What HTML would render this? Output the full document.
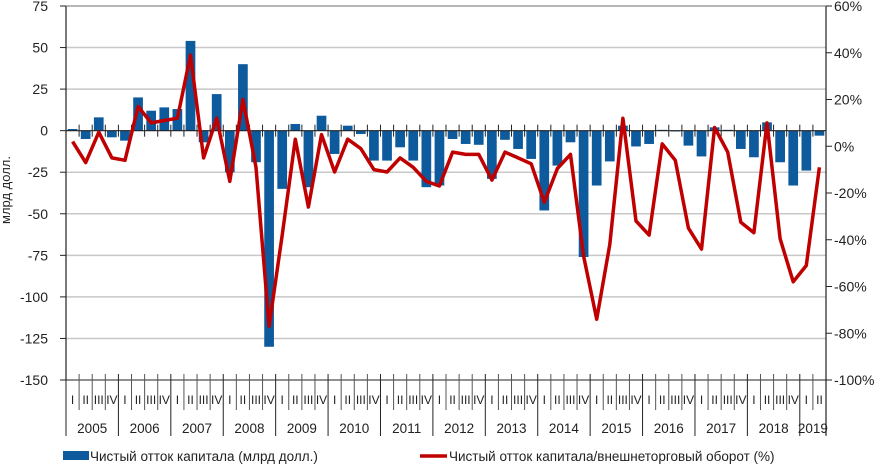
<!DOCTYPE html>
<html><head><meta charset="utf-8"><style>
html,body{margin:0;padding:0;background:#fff;}
svg{display:block;font-family:"Liberation Sans","DejaVu Sans",sans-serif;}
</style></head><body>
<svg id="chart" width="888" height="465" xmlns="http://www.w3.org/2000/svg">
<g id="grid"></g>
<g id="bars"></g>
<g id="axes"></g>
<g id="line"></g>
<g id="labels"></g>
<text x="10" y="190" font-size="13" fill="#222" text-anchor="middle" transform="rotate(-90 10 190)">млрд долл.</text>
<g>
<rect x="63" y="451" width="26" height="9" fill="#0d5a9c"/>
<text x="90" y="461" font-size="13.5" fill="#222">Чистый  отток капитала  (млрд долл.)</text>
<line x1="420" y1="456" x2="447" y2="456" stroke="#c00000" stroke-width="3.5"/>
<text x="449" y="461" font-size="13.5" fill="#222">Чистый  отток капитала/внешнеторговый  оборот (%)</text>
</g>
</svg>
<script>
const years = ["2005","2006","2007","2008","2009","2010","2011","2012","2013","2014","2015","2016","2017","2018","2019"];
const quarterLabels = ["I","II","III","IV"];
const outflow = [1,-5,8,-4, -6,20,12,14, 13,54,-7,22, -25,40,-19,-130, -35,4,-34,9, -14,3,-2,-18, -18,-10,-18,-34, -33,-5,-8,-8.5, -29,-5.5,-11,-17, -48,-21,-7,-76, -33,-18.5,3,-9.5, -8,0.5,-0.5,-9, -15.5,2,0.5,-11, -16,5,-19,-33, -24,-3];
const ratio = [2,-7,6,-5, -6,17,10,11, 12,39,-5,12, -15,20,-9,-77, -38,3,-26,5, -11,3,-1,-10, -11,-5,-9,-15, -17,-2.5,-3.5,-3.5, -14.5,-2.5,-5,-7.5, -24,-9.5,-3.5,-47, -74,-42,12,-32, -38,1,-6,-35, -44,8,-2.5,-32.5, -37,10,-39.5,-58, -51,-9];
const leftTicks = [75,50,25,0,-25,-50,-75,-100,-125,-150];
const rightTicks = [60,40,20,0,-20,-40,-60,-80,-100];

const NS="http://www.w3.org/2000/svg";
const X0=66, X1=826, TOP=6, BOT=380;
const nQ=outflow.length, qw=(X1-X0)/nQ;
const yL=v=>TOP+(75-v)/225*(BOT-TOP);
const yR=v=>TOP+(60-v)/160*(BOT-TOP);
const xQ=i=>X0+qw*(i+0.5);
function mk(parent,tag,attrs){const e=document.createElementNS(NS,tag);for(const k in attrs)e.setAttribute(k,attrs[k]);document.getElementById(parent).appendChild(e);return e;}

leftTicks.forEach(t=>{
  if(t!==-150&&t!==0){const g=mk('grid','line',{x1:X0,x2:X1,y1:yL(t),y2:yL(t),stroke:'#c8c8c8','stroke-width':1.5});
  
  }
  const tx=mk('labels','text',{x:48,y:yL(t)+5,'font-size':14,fill:'#222','text-anchor':'end'});
  tx.textContent=t;
  
  
});
rightTicks.forEach(t=>{
  mk('axes','line',{x1:X1,x2:X1+6,y1:yR(t),y2:yR(t),stroke:'#222'});
  const tx=mk('labels','text',{x:834,y:yR(t)+5,'font-size':14,fill:'#222'});
  tx.textContent=t+'%';
  
  
});

outflow.forEach((v,i)=>{
  const y0=yL(0),y=yL(v);
  const r=mk('bars','rect',{x:xQ(i)-qw*0.37,width:qw*0.74,y:Math.min(y,y0),height:Math.max(Math.abs(y-y0),0.8),fill:'#0d5a9c'});
  
  
});

mk('axes','line',{x1:X0,x2:X0,y1:TOP,y2:BOT,stroke:'#222','stroke-width':1.2});
mk('axes','line',{x1:X1,x2:X1,y1:TOP,y2:BOT+55,stroke:'#222','stroke-width':1.2});
mk('axes','line',{x1:X0-6,x2:X1,y1:TOP,y2:TOP,stroke:'#888'});
mk('axes','line',{x1:X0,x2:X1,y1:yL(0),y2:yL(0),stroke:'#222','stroke-width':1.2});
mk('axes','line',{x1:X0-6,x2:X1,y1:BOT,y2:BOT,stroke:'#222','stroke-width':1});
leftTicks.forEach(t=>mk('axes','line',{x1:X0-6,x2:X0,y1:yL(t),y2:yL(t),stroke:'#222'}));
for(let i=0;i<=nQ;i++){
  const x=X0+qw*i;
  mk('axes','line',{x1:x,x2:x,y1:yL(0)-6,y2:yL(0)+6,stroke:'#222'});
  const yearB=i%4===0||i===nQ;
  mk('axes','line',{x1:x,x2:x,y1:BOT-6,y2:yearB?BOT+56:BOT+30,stroke:yearB?'#222':'#555'});
}
for(let i=0;i<nQ;i++){
  const tx=mk('labels','text',{x:xQ(i),y:BOT+24,'font-size':12,fill:'#222','text-anchor':'middle'});
  tx.textContent=quarterLabels[i%4];
  
  
}
years.forEach((yr,j)=>{
  const qs=Math.min(4,nQ-j*4);
  const tx=mk('labels','text',{x:X0+qw*(j*4+qs/2),y:433,'font-size':13.5,fill:'#222','text-anchor':'middle'});
  tx.textContent=yr;
  
  
});

const pts=ratio.map((v,i)=>xQ(i).toFixed(1)+','+yR(v).toFixed(1)).join(' ');
const pl=mk('line','polyline',{points:pts,fill:'none',stroke:'#c00000','stroke-width':3.5,'stroke-linejoin':'round'});


</script>
</body></html>
